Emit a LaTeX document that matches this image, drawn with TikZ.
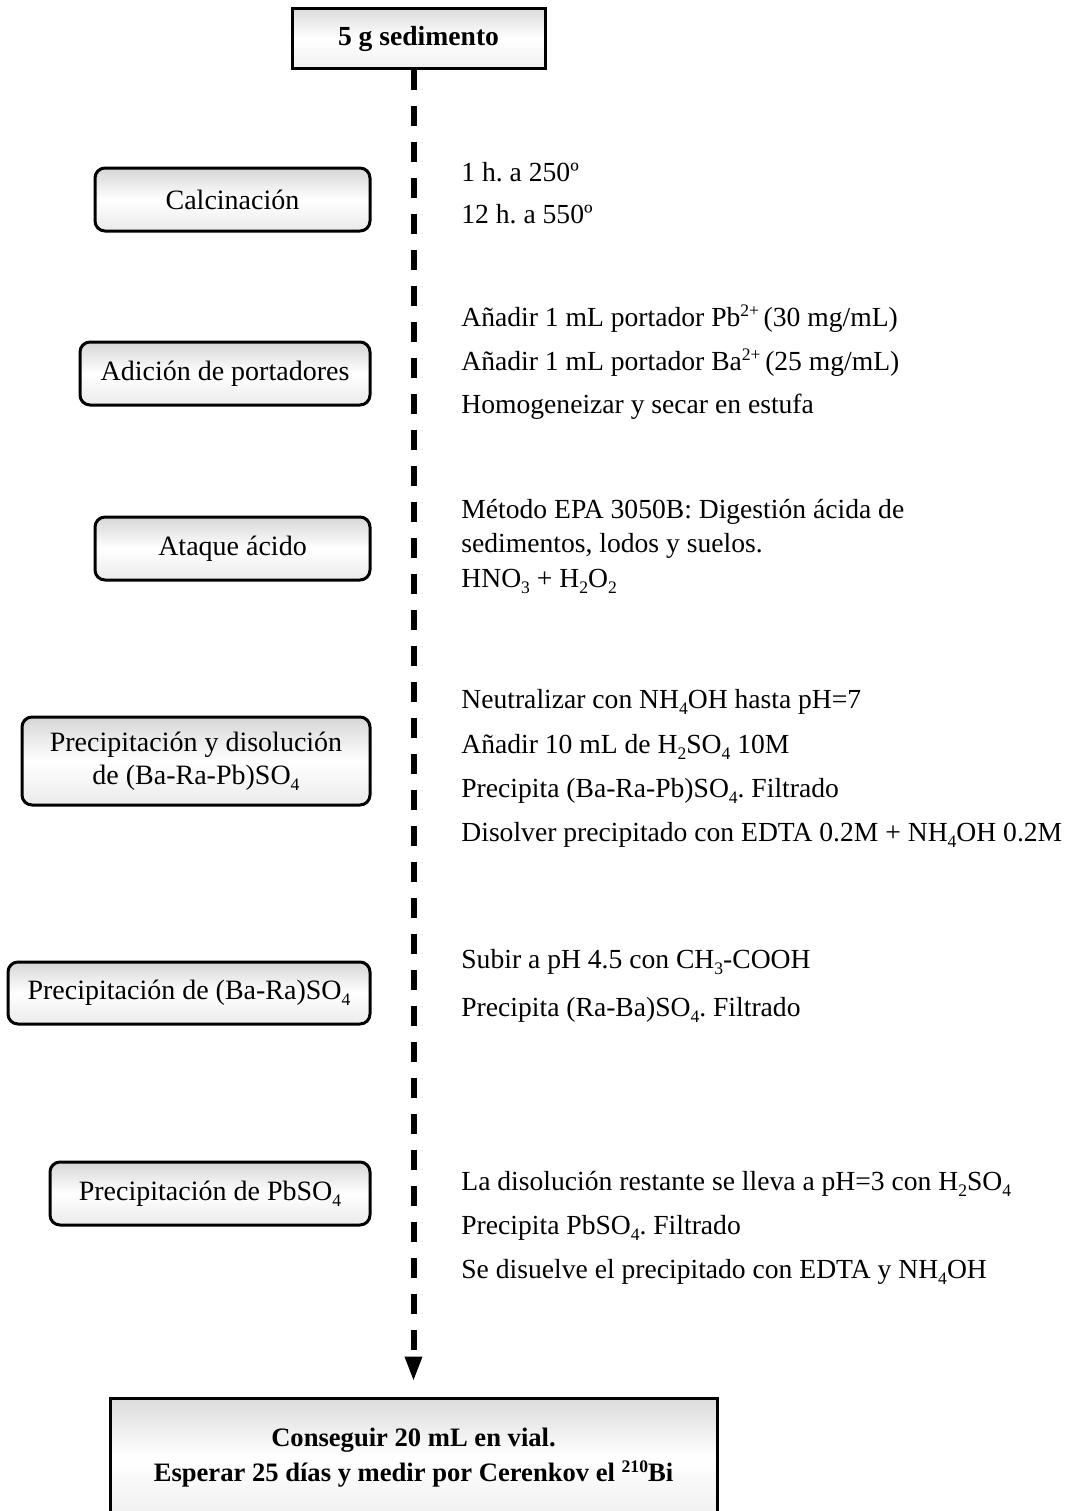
\documentclass[tikz,border=0pt]{standalone}
\usepackage{fontspec}
\setmainfont{Liberation Serif}
\usetikzlibrary{arrows.meta}
\newcommand\chsub[1]{\raisebox{-0.5ex}{\fontsize{8.8}{9}\selectfont #1}}
\newcommand\chsup[1]{\raisebox{0.75ex}{\fontsize{8.8}{9}\selectfont #1}}
\frenchspacing
\begin{document}
\begin{tikzpicture}[x=0.5pt,y=-0.5pt,
  stepbox/.style={draw, line width=1.5pt, rounded corners=5pt, top color=black!16, bottom color=black!8, middle color=white, align=center, inner sep=0pt, font=\fontsize{14}{16.5}\selectfont},
  endbox/.style={draw, line width=1.5pt, top color=black!14, bottom color=black!6, middle color=white, align=center, inner sep=0pt, font=\bfseries\fontsize{13.3}{17.5}\selectfont},
  note/.style={anchor=base west, inner sep=0pt, font=\fontsize{13.8}{14}\selectfont},
  flow/.style={line width=3pt, dash pattern=on 10pt off 8pt, -{Triangle[length=12.5pt,width=8pt]}}
]
\useasboundingbox (0,0) rectangle (1067,1511);
% main boxes
\node[endbox, minimum width=126.5pt, minimum height=30pt, font=\bfseries\fontsize{13.8}{17.5}\selectfont] (top) at (418.5,38.5) {5 g sedimento};
\node[endbox, minimum width=303.5pt, minimum height=59.5pt] (bot) at (413.5,1457.5) {Conseguir 20 mL en vial.\\Esperar 25 días y medir por Cerenkov el \chsup{210}Bi};
\draw[flow, shorten >=7.5pt] (top.south -| bot.north) -- (bot.north);
% step boxes
\node[stepbox, minimum width=137.5pt, minimum height=31.5pt] (calc) at (232.5,199.5) {Calcinación};
\node[stepbox, minimum width=145pt, minimum height=31.5pt] (adic) at (225,373.5) {Adición de portadores};
\node[stepbox, minimum width=137.5pt, minimum height=31.5pt] (atq) at (232.5,548.5) {Ataque ácido};
\node[stepbox, minimum width=174pt, minimum height=44pt] (pdis) at (196,761) {Precipitación y disolución\\de (Ba-Ra-Pb)SO\chsub{4}};
\node[stepbox, minimum width=181pt, minimum height=31pt] (pbara) at (189,993) {Precipitación de (Ba-Ra)SO\chsub{4}};
\node[stepbox, minimum width=160pt, minimum height=31.5pt] (ppb) at (210,1193.5) {Precipitación de PbSO\chsub{4}};
% notes
\node[note] (c1) at (461,181) {1 h. a 250º};
\node[note] (c2) at (461,223) {12 h. a 550º};
\node[note] (a1) at (461,326) {Añadir 1 mL portador Pb\chsup{2+}\,(30 mg/mL)};
\node[note] (a2) at (461,370) {Añadir 1 mL portador Ba\chsup{2+}\,(25 mg/mL)};
\node[note] (a3) at (461,413) {Homogeneizar y secar en estufa};
\node[note] (t1) at (461,518) {Método EPA 3050B: Digestión ácida de};
\node[note] (t2) at (461,552) {sedimentos, lodos y suelos.};
\node[note] (t3) at (461,587) {HNO\chsub{3} + H\chsub{2}O\chsub{2}};
\node[note] (p1) at (461,708) {Neutralizar con NH\chsub{4}OH hasta pH=7};
\node[note] (p2) at (461,753) {Añadir 10 mL de H\chsub{2}SO\chsub{4} 10M};
\node[note] (p3) at (461,797) {Precipita (Ba-Ra-Pb)SO\chsub{4}. Filtrado};
\node[note] (p4) at (461,841) {Disolver precipitado con EDTA 0.2M + NH\chsub{4}OH 0.2M};
\node[note] (b1) at (461,968) {Subir a pH 4.5 con CH\chsub{3}-COOH};
\node[note] (b2) at (461,1016) {Precipita (Ra-Ba)SO\chsub{4}. Filtrado};
\node[note] (l1) at (461,1190) {La disolución restante se lleva a pH=3 con H\chsub{2}SO\chsub{4}};
\node[note] (l2) at (461,1234) {Precipita PbSO\chsub{4}. Filtrado};
\node[note] (l3) at (461,1278) {Se disuelve el precipitado con EDTA y NH\chsub{4}OH};
\end{tikzpicture}
\end{document}
